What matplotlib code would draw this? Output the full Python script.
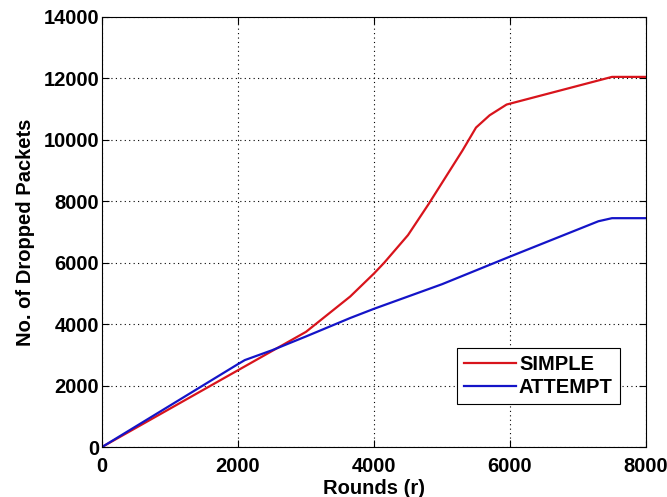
import matplotlib
matplotlib.use("Agg")
import matplotlib.pyplot as plt

# values
simple_x = [0, 1000, 2000, 3000, 3650, 4000, 4150, 4500, 4800, 5000, 5300,
            5500, 5700, 5950, 7500, 8000]
simple_y = [0, 1250, 2500, 3750, 4900, 5650, 6000, 6900, 7900, 8600, 9650,
            10400, 10800, 11150, 12050, 12050]

attempt_x = [0, 1000, 2000, 2100, 2500, 3000, 3650, 4000, 5000, 6000, 7300,
             7500, 8000]
attempt_y = [0, 1350, 2700, 2830, 3150, 3600, 4200, 4500, 5300, 6200, 7350,
             7450, 7450]

x_ticks = [0, 2000, 4000, 6000, 8000]
y_ticks = [0, 2000, 4000, 6000, 8000, 10000, 12000, 14000]


def main():
    plt.rcParams["font.family"] = ["Liberation Sans", "DejaVu Sans"]
    plt.rcParams["font.weight"] = "bold"

    fig = plt.figure(figsize=(6.67, 4.97), dpi=100)
    ax = fig.add_axes([0.153, 0.1006, 0.8155, 0.8652])

    ax.plot(simple_x, simple_y, color="#d8141c", linewidth=1.6, label="SIMPLE")
    ax.plot(attempt_x, attempt_y, color="#1414c8", linewidth=1.6, label="ATTEMPT")

    ax.set_xlim(0, 8000)
    ax.set_ylim(0, 14000)
    ax.set_xticks(x_ticks)
    ax.set_yticks(y_ticks)
    ax.tick_params(direction="in", top=True, right=True, labelsize=14.5,
                   length=5)
    ax.tick_params(axis="x", pad=7)
    ax.tick_params(axis="y", pad=2)
    ax.grid(True, linestyle=(0, (1, 3)), color="black", linewidth=0.8)

    ax.set_xlabel("Rounds (r)", fontsize=14.5, fontweight="bold", labelpad=2)
    ax.set_ylabel("No. of Dropped Packets", fontsize=14.5, fontweight="bold",
                  labelpad=6)

    leg = ax.legend(loc="lower right", bbox_to_anchor=(0.952, 0.10),
                    fontsize=14.5, fancybox=False, framealpha=1,
                    handlelength=2.6, handletextpad=0.15, borderpad=0.35,
                    labelspacing=0.2, borderaxespad=0)
    leg.get_frame().set_edgecolor("black")
    leg.get_frame().set_linewidth(0.8)

    for s in ax.spines.values():
        s.set_linewidth(0.8)

    fig.savefig("out.png", dpi=100)


if __name__ == "__main__":
    main()
